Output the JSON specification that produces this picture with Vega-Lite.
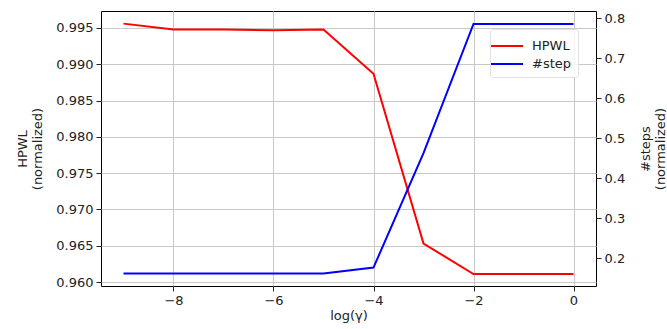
{
  "$schema": "https://vega.github.io/schema/vega-lite/v6.json",
  "width": 495,
  "height": 275,
  "autosize": {"type": "none"},
  "padding": {"left": 101, "top": 11, "right": 71, "bottom": 43},
  "background": "white",
  "config": {
    "font": "DejaVu Sans",
    "view": {"stroke": "black", "strokeWidth": 1},
    "axis": {
      "labelFont": "DejaVu Sans",
      "titleFont": "DejaVu Sans",
      "labelFontSize": 13,
      "titleFontSize": 13,
      "titleFontWeight": "normal",
      "labelColor": "#222",
      "titleColor": "#222",
      "tickColor": "#222",
      "tickSize": 5,
      "labelPadding": 3,
      "domain": false,
      "gridColor": "#c8c8c8",
      "gridWidth": 1
    }
  },
  "data": {
    "values": [
      {"x": -9, "series": "HPWL", "value": 0.9956},
      {"x": -8, "series": "HPWL", "value": 0.9948},
      {"x": -7, "series": "HPWL", "value": 0.9948},
      {"x": -6, "series": "HPWL", "value": 0.9947},
      {"x": -5, "series": "HPWL", "value": 0.9948},
      {"x": -4, "series": "HPWL", "value": 0.9887},
      {"x": -3, "series": "HPWL", "value": 0.9653},
      {"x": -2, "series": "HPWL", "value": 0.9611},
      {"x": -1, "series": "HPWL", "value": 0.9611},
      {"x": 0, "series": "HPWL", "value": 0.9611},
      {"x": -9, "series": "#step", "value": 0.161},
      {"x": -8, "series": "#step", "value": 0.161},
      {"x": -7, "series": "#step", "value": 0.161},
      {"x": -6, "series": "#step", "value": 0.161},
      {"x": -5, "series": "#step", "value": 0.161},
      {"x": -4, "series": "#step", "value": 0.176},
      {"x": -3, "series": "#step", "value": 0.462},
      {"x": -2, "series": "#step", "value": 0.785},
      {"x": -1, "series": "#step", "value": 0.785},
      {"x": 0, "series": "#step", "value": 0.785}
    ]
  },
  "encoding": {
    "x": {
      "field": "x",
      "type": "quantitative",
      "scale": {"domain": [-9.45, 0.45], "nice": false, "zero": false},
      "axis": {"values": [-8, -6, -4, -2, 0], "format": "d", "title": "log(γ)", "titlePadding": 2, "grid": true}
    },
    "color": {
      "field": "series",
      "type": "nominal",
      "scale": {"domain": ["HPWL", "#step"], "range": ["#ff0000", "#0000ff"]},
      "legend": {
        "title": null,
        "orient": "top-right",
        "offset": 18,
        "symbolType": "M-1.6,0H1.6",
        "symbolStrokeWidth": 2,
        "symbolSize": 400,
        "labelOffset": 14,
        "labelFontSize": 13,
        "labelFont": "DejaVu Sans",
        "labelColor": "#222",
        "fillColor": "rgba(255,255,255,0.8)",
        "strokeColor": "#e0e0e0",
        "cornerRadius": 3,
        "padding": 6,
        "rowPadding": 0
      }
    }
  },
  "layer": [
    {
      "transform": [{"filter": "datum.series === 'HPWL'"}],
      "mark": {"type": "line", "strokeWidth": 2, "clip": true},
      "encoding": {
        "y": {
          "field": "value",
          "type": "quantitative",
          "scale": {"domain": [0.95945, 0.99734], "nice": false, "zero": false},
          "axis": {
            "orient": "left",
            "values": [0.96, 0.965, 0.97, 0.975, 0.98, 0.985, 0.99, 0.995],
            "format": ".3f",
            "title": ["HPWL", "(normalized)"],
            "titlePadding": 11,
            "grid": true
          }
        }
      }
    },
    {
      "transform": [{"filter": "datum.series === '#step'"}],
      "mark": {"type": "line", "strokeWidth": 2, "clip": true},
      "encoding": {
        "y": {
          "field": "value",
          "type": "quantitative",
          "scale": {"domain": [0.13, 0.8175], "nice": false, "zero": false},
          "axis": {
            "orient": "right",
            "values": [0.2, 0.3, 0.4, 0.5, 0.6, 0.7, 0.8],
            "format": ".1f",
            "title": ["#steps", "(normalized)"],
            "titleAngle": -90,
            "titlePadding": 13,
            "grid": false
          }
        }
      }
    }
  ],
  "resolve": {"scale": {"y": "independent"}}
}
